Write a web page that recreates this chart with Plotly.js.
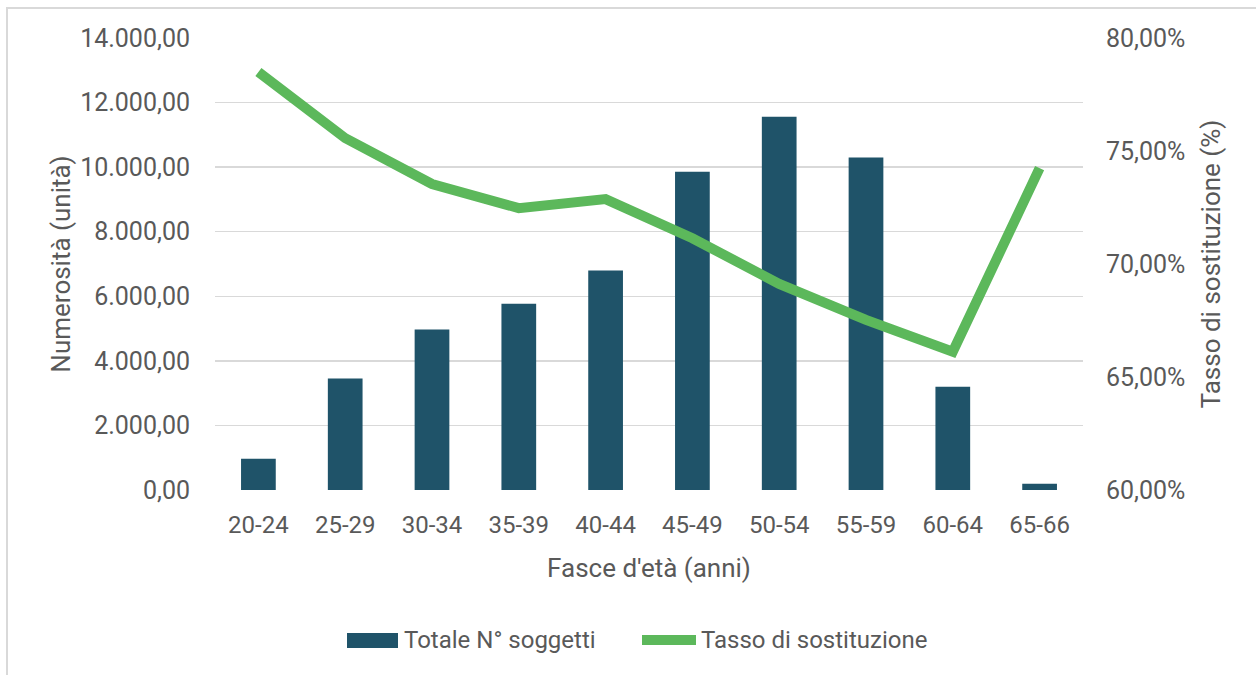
<!DOCTYPE html>
<html>
<head>
<meta charset="utf-8">
<script src="https://cdn.plot.ly/plotly-3.0.1.min.js"></script>
<style>html,body{margin:0;padding:0;background:#fff;}#chart{width:1256px;height:675px;}</style>
</head>
<body>
<div id="chart"></div>
<script>
const categories = ["20-24","25-29","30-34","35-39","40-44","45-49","50-54","55-59","60-64","65-66"];
const totaleSoggetti = [970, 3450, 4970, 5770, 6800, 9860, 11560, 10300, 3200, 190];
const tassoSostituzione = [0.7850, 0.7557, 0.7354, 0.7247, 0.7287, 0.7114, 0.6912, 0.6753, 0.6612, 0.7424];
const seriesNames = ["Totale N° soggetti", "Tasso di sostituzione"];

const L = 215, R = 1083, T = 38, B = 490;
const W = 1256, H = 675;
const px = x => (x - L) / (R - L);
const py = y => (B - y) / (B - T);

const fontFam = 'Roboto, "Open Sans", sans-serif';
const grey = '#595959';
const barColor = '#1F5369';
const lineColor = '#5CB85B';

const traces = [
  {
    type: 'bar', name: seriesNames[0], x: categories, y: totaleSoggetti,
    marker: {color: barColor}, yaxis: 'y', showlegend: false
  },
  {
    type: 'scatter', mode: 'lines', name: seriesNames[1], x: categories, y: tassoSostituzione,
    line: {color: lineColor, width: 10}, yaxis: 'y2', showlegend: false
  }
];

const layout = {
  width: W, height: H,
  margin: {l: L, r: W - R, t: T, b: H - B},
  paper_bgcolor: '#ffffff', plot_bgcolor: '#ffffff',
  separators: ',.',
  font: {family: fontFam, color: grey, size: 24},
  bargap: 0.6,
  showlegend: false,
  xaxis: {
    type: 'category', showgrid: false, zeroline: false, showline: false,
    ticks: '', tickfont: {size: 24, color: grey}, ticklabelstandoff: 18,
    title: {text: "Fasce d'età (anni)", font: {size: 26, color: grey}, standoff: 20}
  },
  yaxis: {
    range: [0, 14000], dtick: 2000, tickformat: ',.2f',
    showgrid: true, gridcolor: '#D9D9D9', gridwidth: 1.5, zeroline: false, showline: false, ticks: '',
    tickfont: {size: 25, color: grey}, ticklabelstandoff: 24,
    title: {text: 'Numerosità (unità)', font: {size: 26, color: grey}, standoff: 2}
  },
  yaxis2: {
    overlaying: 'y', side: 'right', range: [0.6, 0.8], dtick: 0.05, tickformat: '.2%',
    showgrid: false, zeroline: false, showline: false, ticks: '',
    tickfont: {size: 25, color: grey}, ticklabelstandoff: 22,
    title: {text: 'Tasso di sostituzione (%)', font: {size: 26, color: grey}, standoff: 17}
  },
  shapes: [
    {type: 'rect', xref: 'paper', yref: 'paper', layer: 'below',
     x0: px(7), x1: px(1262), y0: py(682), y1: py(8),
     line: {color: '#D9D9D9', width: 2}, fillcolor: 'rgba(0,0,0,0)'},
    {type: 'rect', xref: 'paper', yref: 'paper',
     x0: px(347), x1: px(398), y0: py(648), y1: py(633),
     line: {width: 0}, fillcolor: barColor},
    {type: 'line', xref: 'paper', yref: 'paper',
     x0: px(642), x1: px(696), y0: py(640), y1: py(640),
     line: {color: lineColor, width: 10}}
  ],
  annotations: [
    {xref: 'paper', yref: 'paper', x: px(402), y: py(640), xanchor: 'left', yanchor: 'middle',
     text: seriesNames[0], showarrow: false, font: {size: 24, color: grey}},
    {xref: 'paper', yref: 'paper', x: px(699), y: py(640), xanchor: 'left', yanchor: 'middle',
     text: seriesNames[1], showarrow: false, font: {size: 24, color: grey}}
  ]
};

Plotly.newPlot('chart', traces, layout, {displayModeBar: false, staticPlot: true});
</script>
</body>
</html>
